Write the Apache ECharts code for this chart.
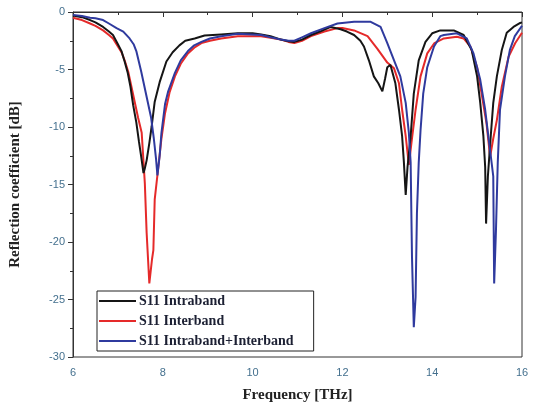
<!DOCTYPE html>
<html>
<head>
<meta charset="utf-8">
<script src="https://cdn.jsdelivr.net/npm/echarts@6/dist/echarts.min.js"></script>
<style>html,body{margin:0;padding:0;background:#fff}#c{width:534px;height:410px}</style>
</head>
<body>
<div id="c"></div>
<script>
const seriesNames = ['S11 Intraband', 'S11 Interband', 'S11 Intraband+Interband'];
const xTicks = [6, 8, 10, 12, 14, 16];
const yTicks = [0, -5, -10, -15, -20, -25, -30];

const intraFreq = [6.0,6.2,6.38,6.5,6.67,6.8,6.89,7.0,7.08,7.15,7.22,7.28,7.34,7.41,7.47,7.52,7.57,7.6,7.64,7.7,7.75,7.82,7.93,8.08,8.22,8.37,8.5,8.71,8.93,9.3,9.67,10.0,10.19,10.4,10.63,10.8,10.93,11.1,11.3,11.5,11.74,11.96,12.1,12.26,12.4,12.48,12.59,12.7,12.8,12.89,12.95,13.0,13.07,13.18,13.26,13.33,13.37,13.41,13.45,13.52,13.59,13.7,13.85,14.0,14.18,14.48,14.7,14.88,15.0,15.07,15.14,15.18,15.2,15.24,15.3,15.36,15.44,15.55,15.66,15.81,15.96,16.0];
const intraDb = [-0.3,-0.45,-0.7,-0.9,-1.3,-1.7,-2.0,-2.8,-3.4,-4.3,-5.3,-6.5,-8.1,-9.6,-11.3,-12.6,-14.0,-13.6,-12.9,-11.4,-10.0,-7.8,-6.1,-4.3,-3.5,-2.9,-2.5,-2.3,-2.05,-1.95,-1.85,-1.85,-1.95,-2.1,-2.4,-2.55,-2.6,-2.4,-2.0,-1.7,-1.3,-1.5,-1.7,-2.0,-2.5,-3.0,-4.2,-5.6,-6.2,-6.9,-5.8,-4.8,-4.6,-6.2,-8.5,-10.8,-13.1,-15.9,-13.5,-10.8,-7.1,-4.2,-2.6,-1.85,-1.6,-1.6,-2.0,-3.3,-5.6,-7.9,-10.8,-13.5,-18.4,-14.3,-11.0,-7.9,-5.6,-3.3,-1.8,-1.3,-0.95,-0.9];

const interFreq = [6.0,6.2,6.38,6.5,6.67,6.8,6.89,7.0,7.08,7.15,7.23,7.34,7.45,7.53,7.6,7.64,7.7,7.76,7.79,7.82,7.9,7.97,8.05,8.15,8.27,8.4,8.56,8.7,8.86,9.05,9.3,9.67,10.19,10.4,10.63,10.8,10.93,11.1,11.3,11.6,11.89,12.0,12.26,12.56,12.78,13.0,13.15,13.26,13.33,13.41,13.48,13.55,13.63,13.74,13.89,14.05,14.26,14.55,14.7,14.85,15.0,15.1,15.21,15.29,15.36,15.44,15.55,15.7,15.85,16.0];
const interDb = [-0.5,-0.7,-1.0,-1.2,-1.6,-2.0,-2.3,-3.0,-3.5,-4.2,-5.2,-7.2,-9.2,-10.5,-14.9,-19.2,-23.6,-21.5,-20.7,-16.3,-13.5,-11.0,-8.8,-7.0,-5.6,-4.5,-3.6,-3.1,-2.7,-2.5,-2.3,-2.1,-2.1,-2.25,-2.4,-2.6,-2.7,-2.5,-2.1,-1.7,-1.4,-1.4,-1.6,-2.1,-3.2,-4.4,-4.9,-6.2,-8.5,-10.8,-13.3,-11.0,-8.5,-5.6,-3.6,-2.7,-2.3,-2.15,-2.3,-3.0,-4.8,-7.1,-9.7,-12.6,-11.0,-9.4,-6.5,-3.9,-2.7,-1.8];

const bothFreq = [6.0,6.2,6.38,6.5,6.67,6.8,6.97,7.12,7.26,7.35,7.41,7.52,7.63,7.74,7.8,7.85,7.88,7.93,7.97,8.05,8.12,8.27,8.4,8.56,8.7,8.86,9.05,9.3,9.67,10.19,10.4,10.63,10.8,10.93,11.1,11.3,11.6,11.89,12.26,12.63,12.85,13.0,13.15,13.29,13.41,13.48,13.52,13.55,13.59,13.63,13.66,13.7,13.74,13.8,13.89,14.04,14.18,14.26,14.55,14.77,14.92,15.07,15.18,15.25,15.32,15.36,15.38,15.42,15.46,15.51,15.62,15.73,15.84,16.0];
const bothDb = [-0.25,-0.35,-0.5,-0.55,-0.7,-1.0,-1.4,-1.7,-2.3,-2.8,-3.4,-5.2,-7.2,-9.2,-11.0,-12.8,-14.2,-12.5,-10.5,-8.0,-6.9,-5.3,-4.2,-3.4,-2.9,-2.6,-2.3,-2.1,-1.9,-2.0,-2.2,-2.4,-2.5,-2.5,-2.2,-1.85,-1.4,-1.0,-0.85,-0.85,-1.3,-2.7,-4.2,-5.6,-7.9,-10.5,-13.1,-21.3,-27.4,-24.8,-17.5,-13.1,-10.3,-7.1,-4.8,-3.0,-2.1,-2.0,-1.85,-2.3,-3.6,-5.9,-8.5,-10.8,-13.0,-14.3,-23.6,-19.0,-13.1,-8.5,-5.6,-3.3,-2.1,-1.2];

const pairs = (xs, ys) => xs.map((x, i) => [x, ys[i]]);
const colors = ['#151515', '#e52a2a', '#2f3a9e'];
const labelColor = '#44708e';

const chart = echarts.init(document.getElementById('c'), null, {renderer: 'canvas'});
chart.setOption({
  animation: false,
  backgroundColor: '#fff',
  grid: {left: 71, right: 12, top: 12, bottom: 53, show: true, borderColor: '#333', borderWidth: 1},
  xAxis: {
    type: 'value', min: xTicks[0], max: xTicks[xTicks.length - 1], interval: 2,
    name: 'Frequency [THz]', nameLocation: 'middle', nameGap: 31,
    nameTextStyle: {fontFamily: 'Liberation Serif', fontWeight: 'bold', fontSize: 15, color: '#222'},
    axisLine: {lineStyle: {color: '#333', width: 1}},
    axisTick: {show: true, inside: false, length: 5, lineStyle: {color: '#333'}},
    minorTick: {show: true, splitNumber: 2, length: 3, lineStyle: {color: '#333'}},
    axisLabel: {color: labelColor, fontFamily: 'Liberation Sans', fontSize: 11, margin: 10},
    splitLine: {show: false}
  },
  yAxis: {
    type: 'value', min: yTicks[yTicks.length - 1], max: yTicks[0], interval: 5,
    name: 'Reflection coefficient [dB]', nameLocation: 'middle', nameGap: 50, nameRotate: 90,
    nameTextStyle: {fontFamily: 'Liberation Serif', fontWeight: 'bold', fontSize: 15, color: '#222'},
    axisLine: {show: true, lineStyle: {color: '#333', width: 1}},
    axisTick: {show: true, inside: false, length: 5, lineStyle: {color: '#333'}},
    minorTick: {show: true, splitNumber: 2, length: 3, lineStyle: {color: '#333'}},
    axisLabel: {color: labelColor, fontFamily: 'Liberation Sans', fontSize: 11, margin: 8},
    splitLine: {show: false}
  },
  legend: {
    orient: 'vertical', left: 97, top: 291,
    data: seriesNames,
    icon: 'rect', itemWidth: 37, itemHeight: 2, itemGap: 6,
    padding: [3, 20, 3, 2],
    borderColor: '#222', borderWidth: 1,
    textStyle: {fontFamily: 'Liberation Serif', fontWeight: 'bold', fontSize: 14, color: '#1c2033', padding: [0, 0, 0, -2]}
  },
  series: [
    {name: seriesNames[0], type: 'line', data: pairs(intraFreq, intraDb), showSymbol: false, lineStyle: {color: colors[0], width: 2}, itemStyle: {color: colors[0]}, z: 3},
    {name: seriesNames[1], type: 'line', data: pairs(interFreq, interDb), showSymbol: false, lineStyle: {color: colors[1], width: 2}, itemStyle: {color: colors[1]}, z: 2},
    {name: seriesNames[2], type: 'line', data: pairs(bothFreq, bothDb), showSymbol: false, lineStyle: {color: colors[2], width: 2}, itemStyle: {color: colors[2]}, z: 4}
  ]
});
</script>
</body>
</html>
